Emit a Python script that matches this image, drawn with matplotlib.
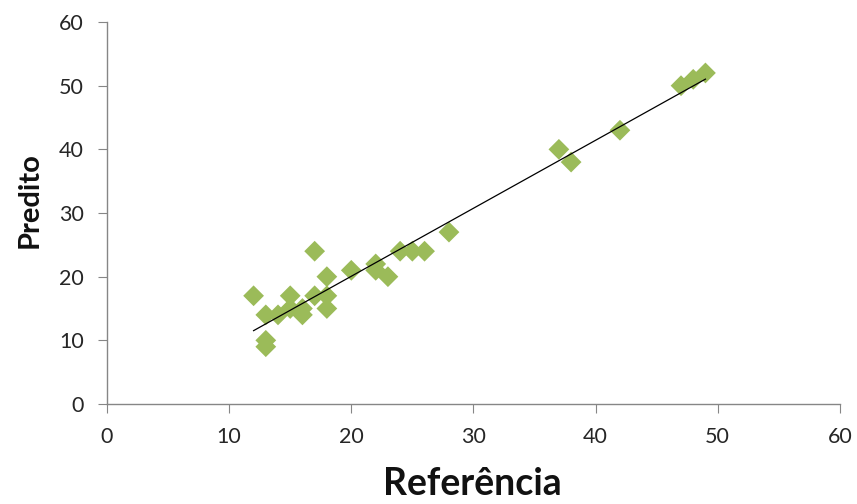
import numpy as np
import matplotlib
matplotlib.use("Agg")
import matplotlib.pyplot as plt

plt.rcParams['font.family'] = ['Lato', 'DejaVu Sans']

referencia = [12, 13, 13, 13, 14, 15, 15, 16, 16, 17, 17, 18, 18, 18, 20, 22, 22, 23, 24, 25, 26, 28, 37, 38, 42, 47, 48, 49]
predito    = [17, 14, 10, 9, 14, 17, 15, 15, 14, 17, 24, 20, 17, 15, 21, 22, 21, 20, 24, 24, 24, 27, 40, 38, 43, 50, 51, 52]
x_ticks = [0, 10, 20, 30, 40, 50, 60]
y_ticks = [0, 10, 20, 30, 40, 50, 60]

fig = plt.figure(figsize=(8.57, 5.04), dpi=100)
ax = fig.add_axes([0.1249, 0.1984, 0.855, 0.7579])

ax.scatter(referencia, predito, marker='D', s=112, color='#9BBB59', edgecolors='none', zorder=3)

coef = np.polyfit(referencia, predito, 1)
xl = np.array([min(referencia), max(referencia)])
ax.plot(xl, np.polyval(coef, xl), color='black', lw=0.9, zorder=4)

ax.set_xlim(0, 60)
ax.set_ylim(0, 60)
ax.set_xticks(x_ticks)
ax.set_yticks(y_ticks)
for s in ['top', 'right']:
    ax.spines[s].set_visible(False)
for s in ['left', 'bottom']:
    ax.spines[s].set_color('#868686')
    ax.spines[s].set_linewidth(1)
ax.tick_params(axis='both', direction='out', length=6.5, color='#868686', labelsize=15.5, labelcolor='#262626', pad=10)

fig.text(472 / 857, 1 - 495 / 504, 'Referência', fontsize=27, fontweight='bold', ha='center', va='baseline', color='#111111')
fig.text(30 / 857, 1 - 200 / 504, 'Predito', fontsize=21, fontweight='bold', rotation=90, ha='center', va='center', color='#111111')

fig.savefig('out.png', dpi=100)
